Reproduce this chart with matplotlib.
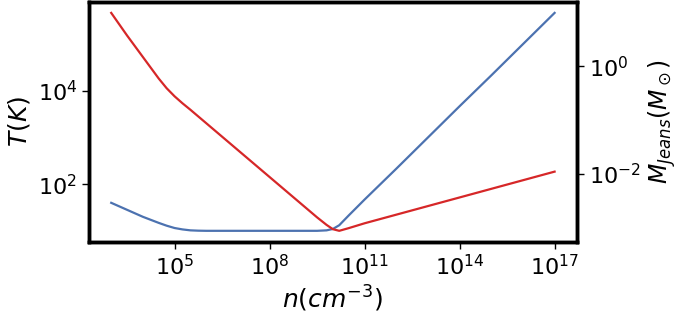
import numpy as np
import matplotlib
matplotlib.use("Agg")
import matplotlib.pyplot as plt
from matplotlib.ticker import NullLocator

# densidad (log10 n), temperatura (log10 T), masa de Jeans (log10 M)
log_n = [3, 3.5, 4, 4.5, 4.75, 5, 5.25, 5.5, 5.75, 6, 7, 8, 9, 9.5, 9.8,
         10, 10.2, 10.5, 11, 12, 13, 14, 15, 16, 17]
log_T = [1.6, 1.45, 1.30, 1.17, 1.11, 1.06, 1.03, 1.01, 1.003, 1.0, 1.0,
         1.0, 1.0, 1.0, 1.01, 1.04, 1.12, 1.33, 1.67, 2.33, 3.0, 3.67, 4.33,
         5.0, 5.67]
log_M = [0.99, 0.57, 0.17, -0.23, -0.41, -0.56, -0.69, -0.81, -0.935, -1.06,
         -1.56, -2.06, -2.56, -2.81, -2.95, -3.03, -3.06, -3.01, -2.92,
         -2.76, -2.60, -2.44, -2.28, -2.12, -1.96]

n = 10 ** np.array(log_n)
T = 10 ** np.array(log_T)
M = 10 ** np.array(log_M)

plt.rcParams['font.size'] = 16

fig = plt.figure(figsize=(6.85, 3.17), dpi=100)
ax = fig.add_axes([0.130, 0.2375, 0.712, 0.7562])
ax2 = ax.twinx()

ax.plot(n, T, color="#4c72b0", lw=1.6)
ax2.plot(n, M, color="#d62728", lw=1.6)

ax.set_xscale("log")
ax.set_yscale("log")
ax2.set_yscale("log")

ax.set_xticks([1e5, 1e8, 1e11, 1e14, 1e17])
ax.set_yticks([1e2, 1e4])
ax2.set_yticks([1e-2, 1e0])
for a in (ax, ax2):
    a.xaxis.set_minor_locator(NullLocator())
    a.yaxis.set_minor_locator(NullLocator())
    for s in a.spines.values():
        s.set_linewidth(2.5)
    a.tick_params(length=5, width=1, labelsize=16)

ax.set_xlabel("$n(cm^{-3})$", fontsize=18)
ax.set_ylabel("$T(K)$", fontsize=18)
ax2.set_ylabel(r"$M_{Jeans}(M_\odot)$", fontsize=17)

plt.savefig("out.png", dpi=100)
